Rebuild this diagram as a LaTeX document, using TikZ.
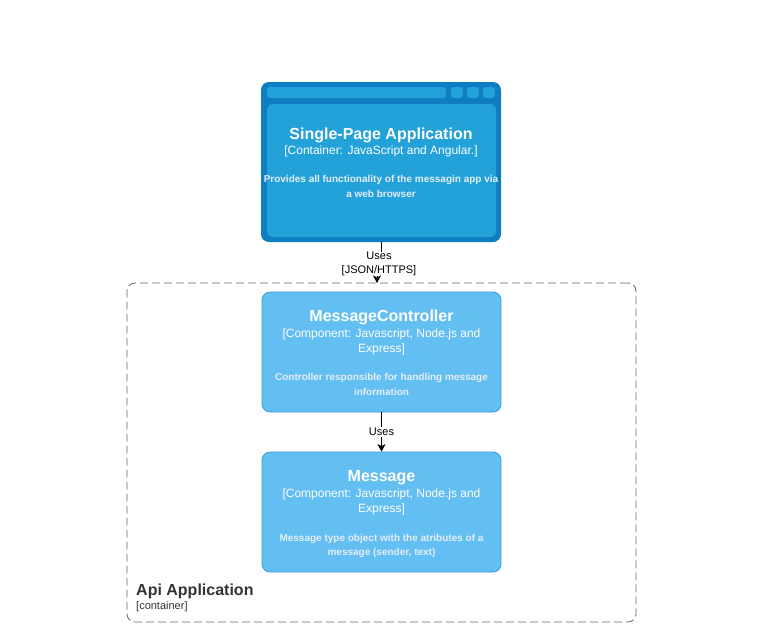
\documentclass[tikz,border=0pt]{standalone}
\usepackage{fontspec}
\setmainfont{Liberation Sans}
\usetikzlibrary{arrows.meta}

\definecolor{spadark}{HTML}{0F7DC2}
\definecolor{spalight}{HTML}{23A1D9}
\definecolor{compfill}{HTML}{63BEF2}
\definecolor{compline}{HTML}{3C9BDD}
\definecolor{descfg}{HTML}{E4EEF6}
\definecolor{boundgray}{HTML}{666666}
\definecolor{labelgray}{HTML}{333333}

\begin{document}
\begin{tikzpicture}[x=1pt, y=-1pt,
    compbox/.style={draw=compline, fill=compfill, line width=0.8pt, rounded corners=8pt, minimum width=239pt, minimum height=120pt},
    titletext/.style={anchor=base, inner sep=0pt, text=white, font=\fontsize{16}{19}\selectfont\bfseries},
    subtext/.style={anchor=base, inner sep=0pt, text=white, align=center, font=\fontsize{12}{15}\selectfont},
    desctext/.style={anchor=base, inner sep=0pt, text=descfg, align=center, font=\fontsize{10}{14.5}\selectfont\bfseries},
    uses/.style={draw=black, line width=0.8pt, -{Stealth[length=7.5pt,width=8pt,inset=2pt]}},
    edgelabel/.style={fill=white, inner sep=0pt, align=center, font=\fontsize{11}{14}\selectfont}]

    \useasboundingbox (0,0) rectangle (776,637);

    % container boundary
    \node[draw=boundgray, line width=0.8pt, dash pattern=on 8pt off 4pt, rounded corners=8pt, minimum width=509pt, minimum height=339pt] (api) at (381.5,452.5) {};
    \node[anchor=base west, inner sep=0pt, text=labelgray, font=\fontsize{16}{19}\selectfont\bfseries] (apititle) at (136,595) {Api Application};
    \node[anchor=base west, inner sep=0pt, text=labelgray, font=\fontsize{11}{13}\selectfont] (apitype) at (136,609) {[container]};

    % single-page application (browser window)
    \node[fill=spadark, rounded corners=8pt, minimum width=240pt, minimum height=160pt] (spa) at (381,162) {};
    \fill[spalight, rounded corners=6pt] (267,104) rectangle (496,237);
    \fill[spalight, rounded corners=3pt] (267,87) rectangle (446,98);
    \foreach \bx in {451,467,483} {
        \fill[spalight, rounded corners=3pt] (\bx,87) rectangle ++(12,11);
    }
    \node[titletext] (spatitle) at (381,139) {Single-Page Application};
    \node[subtext] (spasub) at (381,154) {[Container: JavaScript and Angular.]};
    \node[desctext] (spadesc) at (381,197) {Provides all functionality of the messagin app via\\a web browser};

    % components (base = last line)
    \node[compbox] (ctrl) at (381.5,352) {};
    \node[titletext] (ctrltitle) at (381.5,321.5) {MessageController};
    \node[subtext] (ctrlsub) at (381.5,352.5) {[Component: Javascript, Node.js and\\Express]};
    \node[desctext] (ctrldesc) at (381.5,395) {Controller responsible for handling message\\information};

    \node[compbox] (msg) at (381.5,512) {};
    \node[titletext] (msgtitle) at (381.5,481.5) {Message};
    \node[subtext] (msgsub) at (381.5,512.5) {[Component: Javascript, Node.js and\\Express]};
    \node[desctext] (msgdesc) at (381.5,555.5) {Message type object with the atributes of a\\message (sender, text)};

    % connectors
    \coordinate (apiin) at (377,283);
    \node[edgelabel] (spalabel) at (379,264) {Uses\\{[JSON/HTTPS]}};
    \draw[line width=0.8pt] (spa.south) -- (spa.south |- spalabel.north);
    \draw[uses] (spalabel.south -| apiin) -- (apiin);

    \draw[uses] (ctrl.south) -- (msg.north) node[midway, edgelabel, inner sep=1pt] (ctrllabel) {Uses};
\end{tikzpicture}
\end{document}
